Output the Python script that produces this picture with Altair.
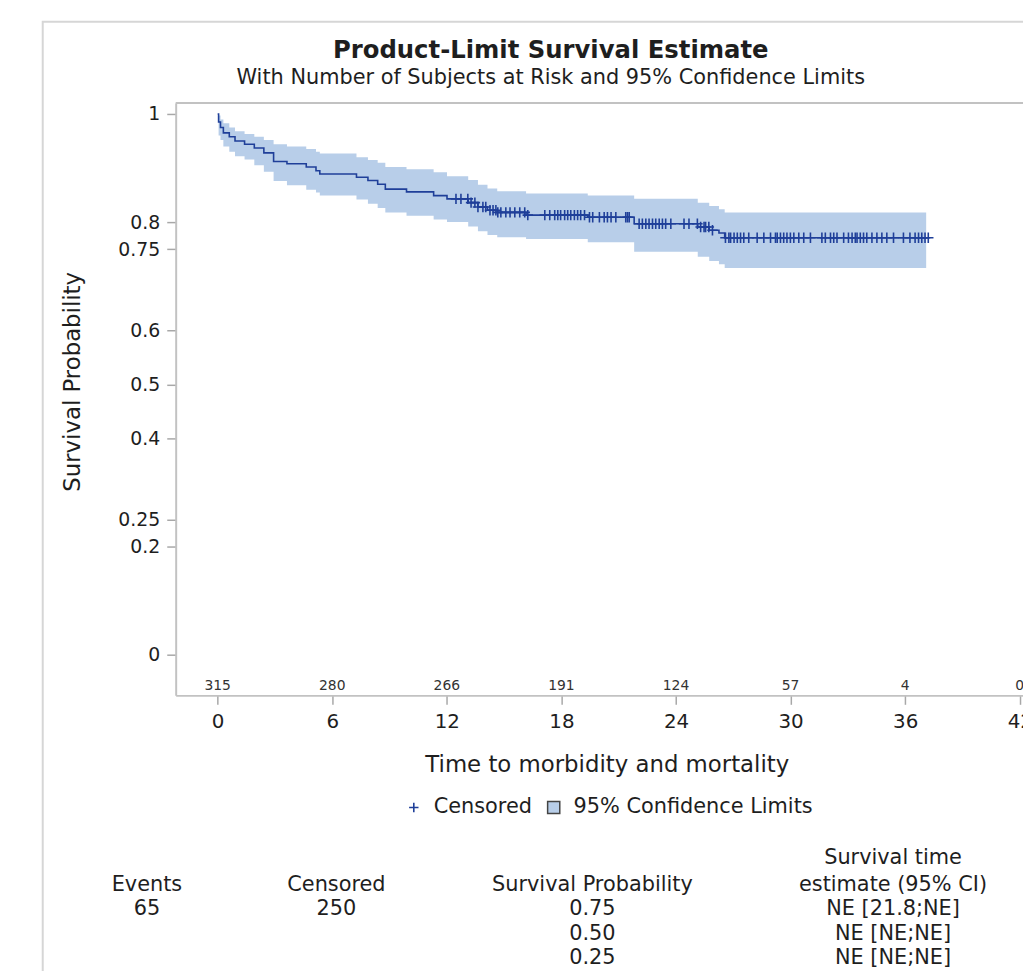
import altair as alt
import pandas as pd

FONT = "DejaVu Sans"
TEXT = "#1e1e1e"
CURVE = "#1f3f99"
BAND = "#b8cee9"
FRAME = "#c2c2c2"

# Kaplan-Meier step curve (time in months, survival probability)
km_time = [0, 0.05, 0.15, 0.3, 0.61, 0.91, 1.41, 1.92, 2.42, 2.93, 3.63, 4.64, 5.15, 5.35,
           7.27, 7.87, 8.38, 8.78, 9.89, 11.31, 12.01, 13.12, 13.63, 14.13, 14.64, 16.15,
           19.38, 21.81, 25.14, 25.74, 26.25, 26.55, 37.25]
km_surv = [1.0, 0.985, 0.975, 0.965, 0.958, 0.950, 0.944, 0.937, 0.928, 0.912, 0.908, 0.902,
           0.895, 0.889, 0.883, 0.877, 0.870, 0.861, 0.856, 0.849, 0.843, 0.836, 0.828, 0.822,
           0.818, 0.813, 0.809, 0.797, 0.791, 0.785, 0.780, 0.771, 0.771]

# 95% confidence band
ci_time = [0, 0.05, 0.15, 0.3, 0.61, 0.91, 1.41, 1.92, 2.42, 2.93, 3.63, 4.64, 5.15, 5.35,
           7.27, 7.87, 8.38, 8.78, 9.89, 11.31, 12.01, 13.12, 13.63, 14.13, 14.64, 16.15,
           19.38, 21.81, 25.14, 25.74, 26.25, 26.55, 37.1]
ci_lower = [1.0, 0.960, 0.952, 0.940, 0.930, 0.922, 0.916, 0.905, 0.893, 0.876, 0.868, 0.860,
            0.855, 0.849, 0.842, 0.834, 0.826, 0.818, 0.812, 0.805, 0.800, 0.792, 0.783, 0.776,
            0.772, 0.769, 0.763, 0.745, 0.736, 0.728, 0.722, 0.715, 0.715]
ci_upper = [1.0, 0.997, 0.990, 0.983, 0.975, 0.968, 0.963, 0.958, 0.952, 0.944, 0.940, 0.935,
            0.930, 0.927, 0.920, 0.915, 0.910, 0.902, 0.898, 0.892, 0.885, 0.878, 0.869, 0.862,
            0.857, 0.853, 0.849, 0.843, 0.836, 0.830, 0.824, 0.818, 0.818]

# censoring times
censor_time = [12.48, 12.74, 13.10, 13.27, 13.47, 13.63, 13.89, 14.04, 14.26, 14.42, 14.57, 14.67,
               14.83, 15.09, 15.31, 15.56, 15.82, 16.08, 16.24, 17.13, 17.39, 17.65, 17.81, 17.96,
               18.17, 18.33, 18.49, 18.68, 18.85, 19.01, 19.21, 19.47, 19.64, 19.99, 20.24, 20.41,
               20.60, 20.85, 21.37, 21.46, 21.55, 22.07, 22.24, 22.42, 22.59, 22.77, 22.94, 23.12,
               23.29, 23.46, 23.73, 24.42, 24.68, 25.12, 25.29, 25.47, 25.55, 25.72, 25.91, 26.59,
               26.77, 26.86, 27.04, 27.21, 27.38, 27.55, 27.81, 28.25, 28.60, 28.95, 29.21, 29.30,
               29.47, 29.64, 29.81, 29.99, 30.17, 30.43, 30.69, 31.04, 31.64, 31.82, 32.09, 32.26,
               32.43, 32.78, 33.03, 33.22, 33.39, 33.48, 33.65, 33.82, 33.99, 34.26, 34.52, 34.78,
               35.04, 35.39, 35.91, 36.25, 36.52, 36.70, 36.87, 37.04, 37.21]

# number at risk
risk_time = [0, 6, 12, 18, 24, 30, 36, 42]
risk_n = [315, 280, 266, 191, 124, 57, 4, 0]

x_ticks = [0, 6, 12, 18, 24, 30, 36, 42]
y_ticks = [0, 0.2, 0.25, 0.4, 0.5, 0.6, 0.75, 0.8, 1]

title = "Product-Limit Survival Estimate"
subtitle = "With Number of Subjects at Risk and 95% Confidence Limits"
x_title = "Time to morbidity and mortality"
y_title = "Survival Probability"
legend_labels = ["Censored", "95% Confidence Limits"]

tab_events = ["Events", "65"]
tab_censored = ["Censored", "250"]
tab_prob = ["Survival Probability", "0.75", "0.50", "0.25"]
tab_est = ["Survival time", "estimate (95% CI)", "NE [21.8;NE]", "NE [NE;NE]", "NE [NE;NE]"]


def surv_at(t):
    s = km_surv[0]
    for tt, ss in zip(km_time, km_surv):
        if tt <= t:
            s = ss
    return s


km_df = pd.DataFrame({"time": km_time, "surv": km_surv})
ci_df = pd.DataFrame({"time": ci_time, "lower": ci_lower, "upper": ci_upper})
cens_df = pd.DataFrame({"time": censor_time, "surv": [surv_at(t) for t in censor_time]})
risk_df = pd.DataFrame({"time": risk_time, "n": [str(v) for v in risk_n]})

xscale = alt.Scale(domain=[-2.197, 42.17], nice=False, zero=False)
yscale = alt.Scale(domain=[-0.0752, 1.0202], nice=False, zero=False)

xaxis = alt.Axis(values=x_ticks, title=None, grid=False, labelFont=FONT, labelFontSize=20,
                 labelColor=TEXT, tickColor="#a8a8a8", tickSize=9, tickWidth=1.5,
                 domainColor=FRAME, domainWidth=2, labelPadding=7, labelFlush=False)
yaxis = alt.Axis(values=y_ticks, title=None, grid=False, labelFont=FONT, labelFontSize=19,
                 labelColor=TEXT, tickColor="#a8a8a8", tickSize=9, tickWidth=1.5,
                 domainColor=FRAME, domainWidth=2, labelPadding=7, format=".2~f")

band = alt.Chart(ci_df).mark_area(interpolate="step-after", color=BAND, opacity=1).encode(
    x=alt.X("time:Q", scale=xscale, axis=xaxis),
    y=alt.Y("lower:Q", scale=yscale, axis=yaxis),
    y2="upper:Q",
)

curve = alt.Chart(km_df).mark_line(interpolate="step-after", color=CURVE, strokeWidth=1.6).encode(
    x="time:Q", y="surv:Q"
)

cens = alt.Chart(cens_df).mark_point(shape="M0,-1V1M-1,0H1", size=110, filled=False,
                                     color=CURVE, strokeWidth=1.6, opacity=1).encode(
    x="time:Q", y="surv:Q"
)

risk = alt.Chart(risk_df).mark_text(font=FONT, fontSize=14, color="#333333",
                                    baseline="middle").encode(
    x="time:Q", y=alt.value(588), text="n:N"
)


def txt(s, x, y, size=20, weight="normal", align="center", angle=0):
    return alt.Chart(pd.DataFrame({"t": [s]})).mark_text(
        font=FONT, fontSize=size, fontWeight=weight, align=align, baseline="middle",
        color=TEXT, angle=angle
    ).encode(x=alt.value(x), y=alt.value(y), text="t:N")


texts = [
    txt(title, 378, -52, size=24.5, weight="bold"),
    txt(subtitle, 378, -25, size=21),
    txt(x_title, 435, 667, size=23),
    txt(y_title, -103, 281, size=23, angle=270),
    txt(legend_labels[0], 260, 710, size=21, align="left"),
    txt(legend_labels[1], 401, 710, size=21, align="left"),
]

# table
col_x = [-29, 162, 420, 723]
row_y = [761, 788, 812, 838, 862]
texts.append(txt(tab_events[0], col_x[0], row_y[1], size=21))
texts.append(txt(tab_events[1], col_x[0], row_y[2], size=21))
texts.append(txt(tab_censored[0], col_x[1], row_y[1], size=21))
texts.append(txt(tab_censored[1], col_x[1], row_y[2], size=21))
for i, s in enumerate(tab_prob):
    texts.append(txt(s, col_x[2], row_y[1 + i], size=21))
for i, s in enumerate(tab_est):
    texts.append(txt(s, col_x[3], row_y[i], size=21))

one = pd.DataFrame({"a": [0]})
leg_plus = alt.Chart(one).mark_point(shape="M0,-1V1M-1,0H1", size=90, filled=False,
                                     color=CURVE, strokeWidth=1.6, opacity=1).encode(
    x=alt.value(240), y=alt.value(710))
leg_square = alt.Chart(one).mark_square(size=150, fill=BAND, stroke="#444444", strokeWidth=1.5,
                                        opacity=1).encode(
    x=alt.value(381), y=alt.value(710))

outer = alt.Chart(one).mark_rect(fillOpacity=0, stroke="#d6d6d6", strokeWidth=2).encode(
    x=alt.value(-134), x2=alt.value(900), y=alt.value(-82), y2=alt.value(900))

top_line = alt.Chart(one).mark_rule(color=FRAME, strokeWidth=2).encode(
    x=alt.value(0), x2=alt.value(900), y=alt.value(0))

chart = alt.layer(outer, band, curve, cens, risk, top_line, leg_plus, leg_square, *texts).properties(
    width=854,
    height=597,
    padding={"left": 169, "top": 92, "right": 0, "bottom": 274},
    autosize=alt.AutoSizeParams(type="none"),
).configure_view(stroke="transparent")

chart.save("out.html", embed_options={"renderer": "svg", "actions": False})
